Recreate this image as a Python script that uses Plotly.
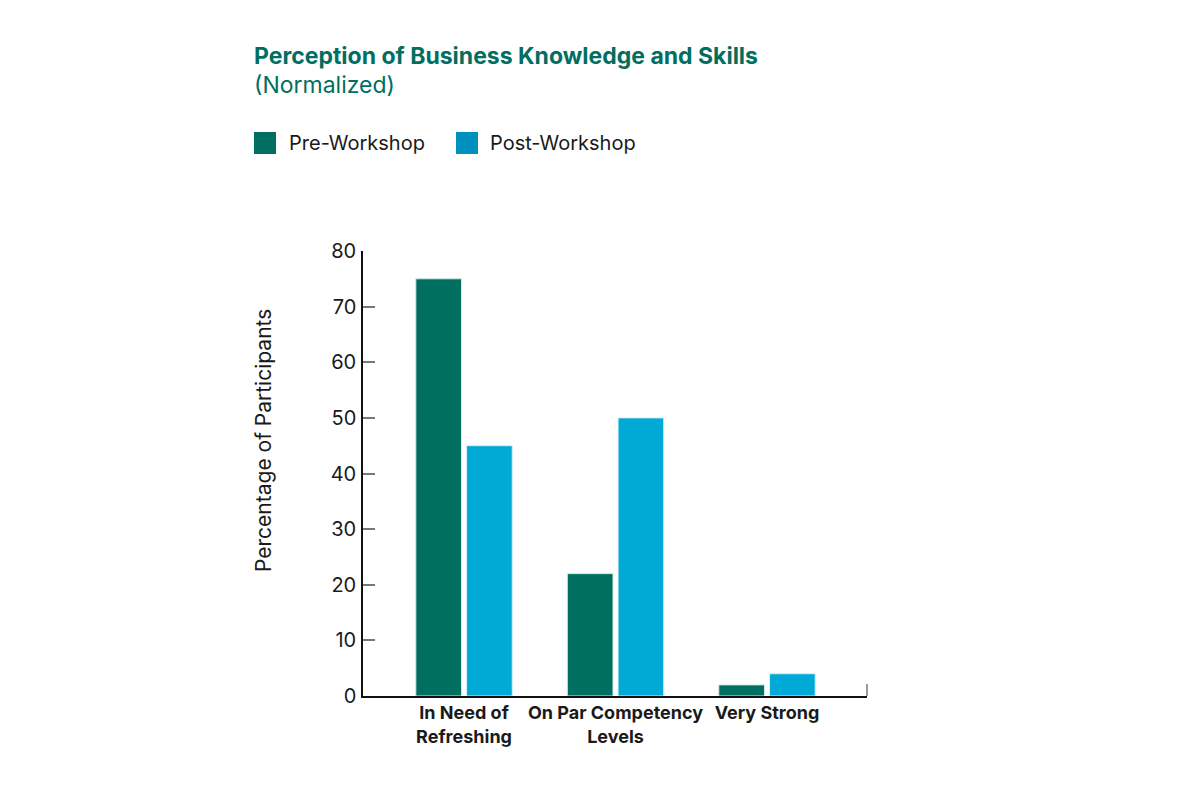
import plotly.graph_objects as go

categories = ["In Need of<br>Refreshing", "On Par Competency<br>Levels", "Very Strong"]
pre_workshop = [75, 22, 2]
post_workshop = [45, 50, 4]
series_names = ["Pre-Workshop", "Post-Workshop"]

GREEN = "#006e60"
BLUE = "#00a9d6"
LEGEND_BLUE = "#0090c0"
FONT = "Inter"

# the page puts the figure 8px in from the top-left corner
OFF = 8
# plot area in screen pixels
L, R, T, B = 363 - OFF, 867 - OFF, 251 - OFF, 696 - OFF


def px(x):
    return (x - OFF - L) / (R - L)


def py(y):
    return (B - (y - OFF)) / (B - T)


fig = go.Figure()
fig.add_trace(go.Bar(x=categories, y=pre_workshop, name=series_names[0],
                     marker=dict(color=GREEN, line=dict(color="#cfe9e6", width=1))))
fig.add_trace(go.Bar(x=categories, y=post_workshop, name=series_names[1],
                     marker=dict(color=BLUE, line=dict(color="#d4f0f8", width=1))))

shapes = [
    # legend squares
    dict(type="rect", xref="paper", yref="paper", x0=px(254), x1=px(276), y0=py(154), y1=py(132),
         fillcolor=GREEN, line=dict(width=0)),
    dict(type="rect", xref="paper", yref="paper", x0=px(456), x1=px(478), y0=py(154), y1=py(132),
         fillcolor=LEGEND_BLUE, line=dict(width=0)),
    # small end tick on x axis
    dict(type="line", xref="paper", yref="paper", x0=1, x1=1, y0=0, y1=py(684),
         line=dict(color="#777777", width=1.5)),
]

annotations = [
    dict(text="<b>Perception of Business Knowledge and Skills</b>", xref="paper", yref="paper",
         x=px(252), y=py(56), xanchor="left", yanchor="middle", showarrow=False,
         font=dict(family=FONT, size=23, color=GREEN)),
    dict(text="(Normalized)", xref="paper", yref="paper",
         x=px(252), y=py(85), xanchor="left", yanchor="middle", showarrow=False,
         font=dict(family=FONT, size=23, color=GREEN)),
    dict(text=series_names[0], xref="paper", yref="paper",
         x=px(287), y=py(143), xanchor="left", yanchor="middle", showarrow=False,
         font=dict(family=FONT, size=20, color="#1a1a1a")),
    dict(text=series_names[1], xref="paper", yref="paper",
         x=px(488), y=py(143), xanchor="left", yanchor="middle", showarrow=False,
         font=dict(family=FONT, size=20, color="#1a1a1a")),
    # y axis title
    dict(text="Percentage of Participants", xref="paper", yref="paper",
         x=px(263), y=py(441), xanchor="center", yanchor="middle", textangle=-90,
         showarrow=False, font=dict(family=FONT, size=21, color="#1a1a1a")),
]

fig.update_layout(
    width=1200, height=800,
    margin=dict(l=L, r=1200 - R, t=T, b=800 - B),
    plot_bgcolor="white", paper_bgcolor="white",
    barmode="group", bargap=0.33, bargroupgap=0.1,
    showlegend=False,
    shapes=shapes, annotations=annotations,
    font=dict(family=FONT, color="#1a1a1a"),
    xaxis=dict(
        range=[-0.667, 2.66], showline=True, linecolor="#111111", linewidth=1.5,
        ticks="", showgrid=False, zeroline=False,
        tickfont=dict(family=FONT, size=18, color="#1a1a1a", weight="bold"),
    ),
    yaxis=dict(
        range=[0, 80], dtick=10, showline=True, linecolor="#111111", linewidth=1.5,
        ticks="inside", ticklen=12, tickcolor="#777777", tickwidth=1.5,
        ticklabelstandoff=1,
        showgrid=False, zeroline=False,
        tickfont=dict(family=FONT, size=20, color="#1a1a1a"),
    ),
)

fig.write_html("out.html")
